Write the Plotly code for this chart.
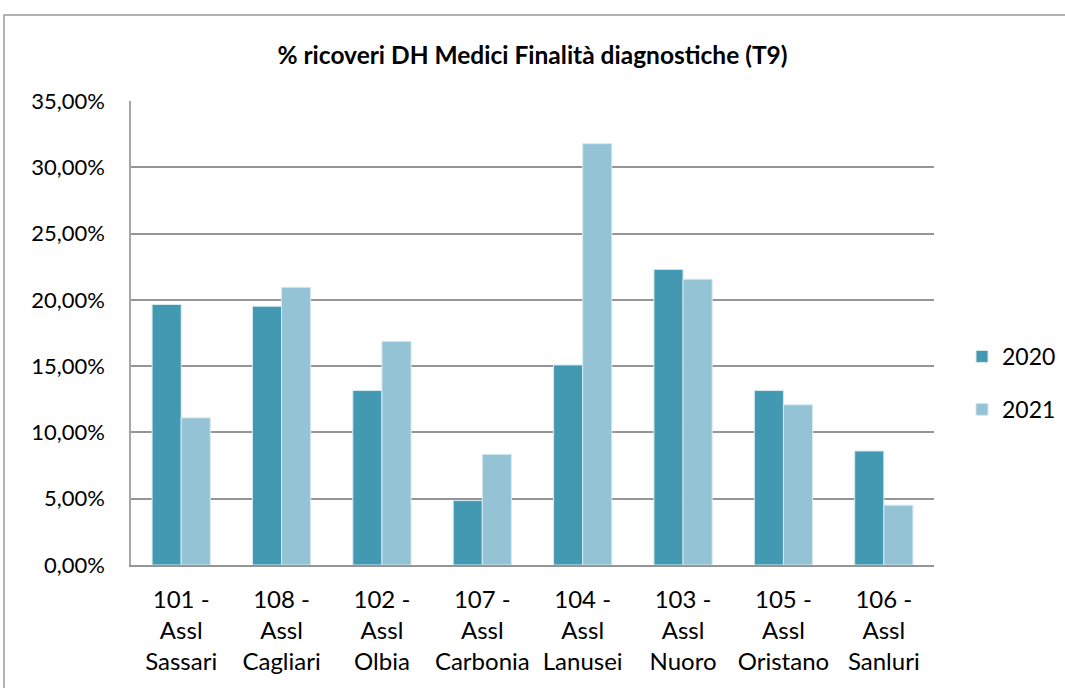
import plotly.graph_objects as go

categories = ["101 -<br>Assl<br>Sassari", "108 -<br>Assl<br>Cagliari", "102 -<br>Assl<br>Olbia",
              "107 -<br>Assl<br>Carbonia", "104 -<br>Assl<br>Lanusei", "103 -<br>Assl<br>Nuoro",
              "105 -<br>Assl<br>Oristano", "106 -<br>Assl<br>Sanluri"]
values_2020 = [0.1965, 0.1952, 0.1316, 0.0486, 0.1509, 0.2230, 0.1316, 0.0860]
values_2021 = [0.1110, 0.2095, 0.1687, 0.0835, 0.3178, 0.2156, 0.1208, 0.0451]
title_text = "% ricoveri DH Medici Finalità diagnostiche (T9)"

FONT = "Lato, 'Liberation Sans', sans-serif"
W, H = 1065, 688
L, R, T, B = 131, 934, 101, 565

fig = go.Figure()
fig.add_trace(go.Bar(x=categories, y=values_2020, name="2020", legendgroup="a",
                     marker=dict(color="#4399B1", line=dict(color="#D6EAF0", width=1))))
fig.add_trace(go.Bar(x=categories, y=values_2021, name="2021", legendgroup="b",
                     marker=dict(color="#93C3D5", line=dict(color="#D6EAF0", width=1))))

pw, ph = R - L, B - T
def px_x(p):
    return (p - L) / pw
def px_y(p):
    return (B - p) / ph

fig.update_layout(
    width=W, height=H,
    margin=dict(l=L, r=W - R, t=T, b=H - B, autoexpand=False),
    paper_bgcolor="white", plot_bgcolor="white",
    separators=",.",
    barmode="group", bargap=0.42, bargroupgap=0,
    font=dict(family=FONT, size=22, color="#000000"),
    title=dict(text="<b>" + title_text + "</b>", x=0.5, xanchor="center", xref="paper",
               y=1 - 55 / H, yanchor="middle", font=dict(size=24.5, family=FONT)),
    xaxis=dict(showgrid=False, showline=True, linecolor="#959595", linewidth=2,
               ticks="", tickfont=dict(size=24), ticklabelstandoff=12, automargin=False),
    yaxis=dict(range=[0, 0.35], dtick=0.05, tickformat=".2%", showgrid=True,
               gridcolor="#959595", gridwidth=1.5, zeroline=False,
               showline=True, linecolor="#A6A6A6", linewidth=1.5,
               ticks="", ticklen=0, tickfont=dict(size=22), ticklabelstandoff=20,
               automargin=False),
    legend=dict(x=px_x(962), y=px_y(335), xanchor="left", yanchor="top",
                font=dict(size=23), traceorder="grouped", tracegroupgap=20, itemwidth=30,
                bgcolor="rgba(0,0,0,0)"),
    shapes=[dict(type="rect", xref="paper", yref="paper",
                 x0=px_x(4), x1=px_x(1075), y0=px_y(700), y1=px_y(15),
                 line=dict(color="#9A9A9A", width=1.5), fillcolor="rgba(0,0,0,0)", layer="below")],
)

fig.write_html("out.html", config={"displayModeBar": False},
               post_script="document.body.style.margin='0';")
